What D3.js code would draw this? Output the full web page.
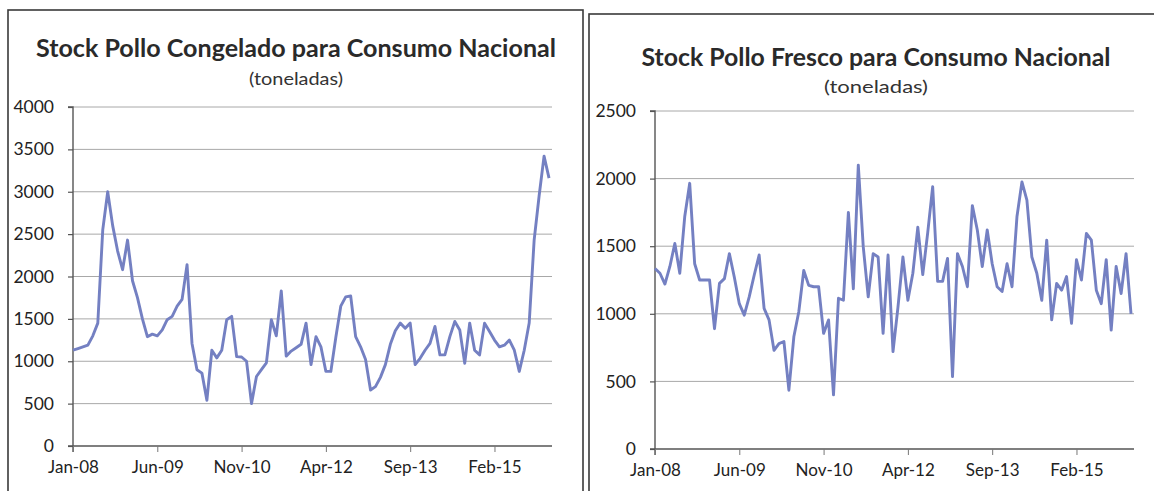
<!DOCTYPE html>
<html><head><meta charset="utf-8">
<script src="https://cdn.jsdelivr.net/npm/d3@7"></script>
<style>html,body{margin:0;padding:0;background:#fff;} svg{display:block;}</style>
</head><body>
<svg id="c" width="1154" height="491"></svg>
<script>
// Categories: monthly, Jan-08 .. Jan-16
const months = d3.timeMonth.range(new Date(2008,0,1), new Date(2016,1,1)).map(d3.timeFormat("%b-%y"));
const tickEvery = 17;

// Stock pollo congelado (toneladas)
const congelado = [1130,1150,1170,1190,1300,1450,2550,3000,2600,2300,
  2080,2430,1950,1750,1500,1290,1320,1300,1370,1490,
  1530,1650,1730,2140,1210,900,860,540,1130,1040,
  1130,1490,1530,1055,1050,1000,500,820,900,980,
  1490,1300,1830,1060,1120,1160,1200,1450,960,1290,
  1170,880,880,1280,1650,1760,1770,1290,1170,1020,
  660,700,810,960,1200,1360,1450,1390,1450,960,
  1035,1130,1210,1410,1075,1075,1290,1470,1370,975,
  1450,1130,1075,1450,1350,1250,1170,1190,1250,1130,
  880,1130,1450,2430,2950,3420,3160];

// Stock pollo fresco (toneladas)
const fresco = [1335,1300,1220,1350,1520,1300,1720,1965,1370,1250,
  1250,1250,890,1225,1260,1445,1270,1075,990,1125,
  1285,1435,1040,955,730,780,795,435,830,1015,
  1320,1210,1200,1200,855,955,400,1115,1100,1750,
  1185,2100,1495,1125,1445,1420,855,1435,720,1050,
  1420,1100,1300,1640,1290,1600,1940,1240,1240,1410,
  535,1445,1350,1200,1800,1620,1350,1620,1370,1200,
  1165,1370,1200,1720,1975,1840,1420,1300,1100,1545,
  955,1225,1175,1275,930,1400,1250,1595,1545,1175,
  1075,1400,880,1350,1150,1445,1000];

const congeladoTicks = [0,500,1000,1500,2000,2500,3000,3500,4000];
const frescoTicks = [0,500,1000,1500,2000,2500];

const panels = [
  {title:"Stock Pollo Congelado para Consumo Nacional", sub:"(toneladas)", data:congelado, yTicks:congeladoTicks,
   frame:{x:8,y:10,w:575,h:520}, px:[73,552], py:[446,107], tx:296, ty:57, sy:85, tw:520, sw:94},
  {title:"Stock Pollo Fresco para Consumo Nacional", sub:"(toneladas)", data:fresco, yTicks:frescoTicks,
   frame:{x:589,y:14,w:600,h:520}, px:[655,1134], py:[449,111], tx:876, ty:66, sy:93, tw:469, sw:104}
];

const svg = d3.select("#c");
const font = "Lato, 'Open Sans', sans-serif";

panels.forEach(p => {
  const g = svg.append("g");
  g.append("rect").attr("x",p.frame.x).attr("y",p.frame.y).attr("width",p.frame.w).attr("height",p.frame.h)
    .attr("fill","none").attr("stroke","#3a3a3a").attr("stroke-width",1.6);

  const x = d3.scaleLinear().domain([0, 96.6]).range(p.px);
  const y = d3.scaleLinear().domain([0, d3.max(p.yTicks)]).range(p.py);

  // gridlines
  g.append("g").selectAll("line").data(p.yTicks.filter(v=>v>0)).join("line")
    .attr("x1",p.px[0]).attr("x2",p.px[1]).attr("y1",d=>y(d)).attr("y2",d=>y(d))
    .attr("stroke","#a8a8a8").attr("stroke-width",1);

  // y axis
  const ya = g.append("g").attr("transform",`translate(${p.px[0]},0)`)
    .call(d3.axisLeft(y).tickValues(p.yTicks).tickSize(5).tickPadding(14).tickFormat(d3.format("d")));
  ya.select(".domain").attr("stroke","#555").attr("stroke-width",1.4).attr("d",`M-5,${p.py[1]}H0V${p.py[0]+6}`);
  ya.selectAll(".tick line").attr("stroke","#555").attr("stroke-width",1.2);
  ya.selectAll("text").attr("font-family",font).attr("font-size",17.5).attr("fill","#222");

  // x axis
  const idx = d3.range(0, p.data.length, tickEvery);
  const xa = g.append("g").attr("transform",`translate(0,${p.py[0]})`)
    .call(d3.axisBottom(x).tickValues(idx).tickSize(6).tickPadding(9).tickFormat(i=>months[i]));
  xa.select(".domain").attr("stroke","#555").attr("stroke-width",1.4).attr("d",`M${p.px[0]-5},0H${p.px[1]}`);
  xa.selectAll(".tick line").attr("stroke","#777").attr("stroke-width",1);
  xa.selectAll("text").attr("font-family",font).attr("font-size",17).attr("fill","#222");

  // line
  g.append("path").datum(p.data)
    .attr("d", d3.line().x((d,i)=>x(i)).y(d=>y(d)))
    .attr("fill","none").attr("stroke","#7480c2").attr("stroke-width",2.9).attr("stroke-linejoin","round");

  // titles
  g.append("text").attr("x",p.tx).attr("y",p.ty).attr("text-anchor","middle")
    .attr("font-family",font).attr("font-weight","bold").attr("font-size",24).attr("fill","#2a2a2a")
    .attr("textLength",p.tw).attr("lengthAdjust","spacingAndGlyphs").text(p.title);
  g.append("text").attr("x",p.tx).attr("y",p.sy).attr("text-anchor","middle")
    .attr("font-family",font).attr("font-size",18).attr("fill","#333")
    .attr("textLength",p.sw).attr("lengthAdjust","spacingAndGlyphs").text(p.sub);
});
</script>
</body></html>
